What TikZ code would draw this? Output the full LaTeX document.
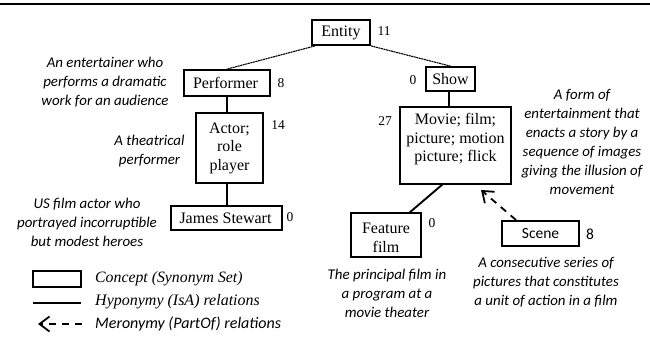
\documentclass[tikz,border=0pt]{standalone}
\usepackage{fontspec}
\setmainfont{Liberation Serif}
\newfontfamily\glossfont{Carlito}
\usetikzlibrary{arrows.meta}
\tikzset{
  x=1pt,y=-1pt,
  concept/.style={draw=black,line width=1.8pt,inner sep=0pt,align=center,font=\fontsize{16}{18.5}\selectfont},
  count/.style={font=\fontsize{13.5}{16}\selectfont,inner sep=0pt},
  gloss/.style={font=\glossfont\itshape\fontsize{14.9}{19}\selectfont,align=center,inner sep=0pt},
  legendtext/.style={anchor=west,inner sep=0pt,font=\itshape\fontsize{16}{18}\selectfont},
  isa/.style={line width=1.9pt},
  top/.style={line width=1.1pt,dash pattern=on 2pt off 0.6pt},
  partof/.style={line width=1.8pt,dash pattern=on 7pt off 6pt,-{Straight Barb[length=10pt,width=15pt,line width=1.8pt]}},
}
\newcommand{\conceptbox}[6]{\node[concept,minimum width=#4pt,minimum height=#5pt] (#1) at (#2,#3) {#6};}
\begin{document}
\begin{tikzpicture}
\useasboundingbox (0,0) rectangle (650,345);
\fill[black] (0,2.7) rectangle (650,5);
\conceptbox{entity}{341}{32.5}{58}{25}{Entity}
\conceptbox{performer}{227}{83}{86}{26}{Performer\hspace{3pt}}
\conceptbox{actor}{229.5}{148}{67}{70}{Actor;\\role\\player}
\conceptbox{james}{226.5}{218}{111}{24}{James Stewart\hspace{2pt}}
\conceptbox{show}{450.5}{79}{49}{24}{Show}
\conceptbox{movie}{455.5}{145.5}{111}{77}{Movie; film;\\picture; motion\\picture; flick\rule[-15.4pt]{0pt}{15.4pt}}
\conceptbox{feature}{386}{235}{70}{44}{\rule{0pt}{16pt}Feature\\film}
\node[concept,minimum width=77pt,minimum height=25pt,font=\glossfont\fontsize{15.5}{19}\selectfont] (scene) at (540.5,233.5) {Scene};
\coordinate (legbox) at (57,279);
\node[concept,minimum width=48pt,minimum height=16pt] (legend) at (legbox) {};
\draw[top] (entity.south west) ++(4,0) coordinate (e1) -- (performer.north);
\draw[top] (entity.south east) -- (show.north);
\draw[isa] (performer.south) -- (performer.south |- actor.north);
\draw[isa] (james.north -| performer.south) -- (actor.south -| performer.south);
\draw[isa] (show.south -| 449,0) -- (movie.north -| 449,0);
\coordinate (mf) at (443,184);
\coordinate (fm) at (409,213);
\draw[isa] (mf) -- (fm);
\coordinate (sm) at (516,220);
\coordinate (ms) at (481,190);
\draw[partof] (sm) -- (ms);
\coordinate (l1) at (33,303);
\coordinate (l2) at (81,303);
\draw[isa,line width=2.2pt] (l1) -- (l2);
\coordinate (l3) at (82,324);
\coordinate (l4) at (38,324);
\draw[partof] (l3) -- (l4);
\node[count] (ne) at (384,31) {11};
\node[count] (np) at (281,83) {8};
\node[count] (na) at (278,125) {14};
\node[count] (nj) at (290,217) {0};
\node[count] (ns) at (413,80) {0};
\node[count] (nm) at (385,121) {27};
\node[count] (nf) at (432,223) {0};
\node[font=\glossfont\fontsize{15.5}{18}\selectfont,inner sep=0pt] (nsc) at (590,234) {8};
\node[gloss] (g1) at (105,82) {An entertainer who\\performs a dramatic\\work for an audience};
\node[gloss] (g2) at (149.5,151.5) {A theatrical\\performer};
\node[gloss] (g3) at (87,222) {US film actor who\\portrayed incorruptible\\but modest heroes};
\node[gloss] (g4) at (582,142) {A form of\\entertainment that\\enacts a story by a\\sequence of images\\giving the illusion of\\movement};
\node[gloss] (g5) at (387,293) {The principal film in\\a program at a\\movie theater};
\node[gloss] (g6) at (546,282) {A consecutive series of\\pictures that constitutes\\a unit of action in a film};
\node[legendtext,font=\itshape\fontsize{15.8}{18}\selectfont] (t1) at (95,279) {Concept (Synonym Set)};
\node[legendtext] (t2) at (95,302) {Hyponymy (IsA) relations};
\node[legendtext,font=\glossfont\itshape\fontsize{16}{18}\selectfont] (t3) at (95,324) {Meronymy (PartOf) relations};
\end{tikzpicture}
\end{document}
